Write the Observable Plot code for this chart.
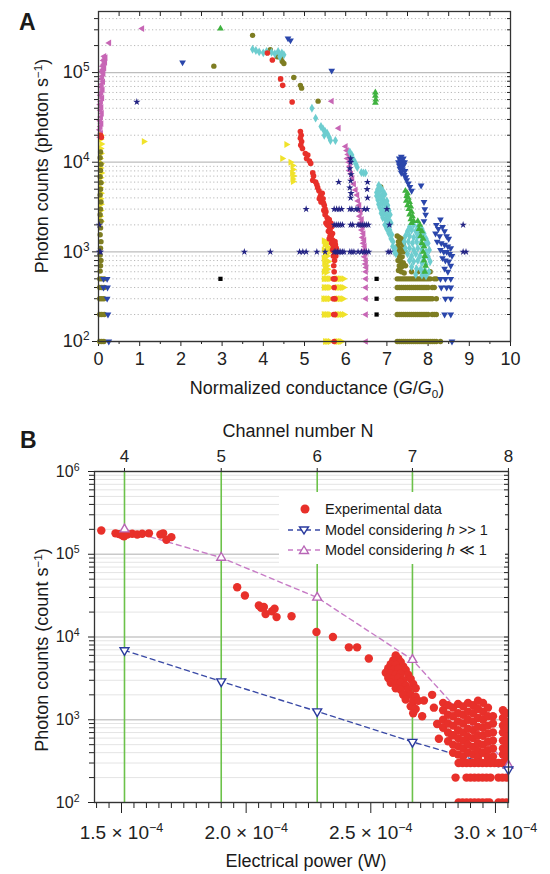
<!DOCTYPE html>
<html><head><meta charset="utf-8">
<script src="https://cdn.jsdelivr.net/npm/d3@7"></script>
<script src="https://cdn.jsdelivr.net/npm/@observablehq/plot@0.6"></script>
<style>
html,body{margin:0;padding:0;background:#fff;}
#root{position:relative;width:550px;height:874px;overflow:hidden;font-family:'Liberation Sans',Arial,Helvetica,sans-serif;color:#1a1a1a;}
.abs{position:absolute;white-space:nowrap;line-height:1;}
.c{transform:translate(-50%,-50%);}
.rot{transform:translate(-50%,-50%) rotate(-90deg);}
.panel{position:absolute;left:0;}
sup{font-size:0.65em;vertical-align:0.55em;line-height:0;}
sub{font-size:0.65em;vertical-align:-0.3em;line-height:0;}
.leg{position:absolute;font-size:14.5px;white-space:nowrap;line-height:1;transform:translateY(-50%);}
</style></head>
<body><div id="root"></div>
<script>
// ---------------- Panel A data: [G/G0, photon counts] ----------------
const magentaA = [
[0.04,19000],[0.06,21000],[0.03,23000],[0.05,25000],[0.07,27000],[0.04,29000],[0.06,32000],[0.08,35000],[0.05,38000],[0.07,41000],[0.04,44000],[0.06,48000],[0.09,52000],[0.05,56000],[0.07,60000],[0.1,64000],[0.06,69000],[0.08,74000],[0.11,79000],[0.07,85000],[0.09,91000],[0.12,97000],[0.08,103000],[0.11,108000],[0.14,112000],[0.1,118000],[0.13,124000],[0.16,130000],[0.12,136000],[0.15,141000],[0.17,147000],[0.14,152000],
[0.26,214000],[1.06,310000],[5.66,48000],[5.83,24000],
[6.0,15000],[6.03,13500],[6.06,12200],[6.04,11000],[6.08,10000],[6.1,9000],[6.09,8100],[6.13,7400],[6.16,6600],[6.2,5700],[6.24,4900],[6.28,4300],[6.3,3700],[6.33,3300],[6.31,3000],[6.36,2800],[6.34,2500],[6.39,2300],[6.37,2100],[6.41,1900],[6.39,1750],[6.43,1600],[6.41,1450],[6.45,1350],[6.43,1250],[6.46,1150],[6.45,1050],[6.48,960],[6.46,880],[6.49,800],[6.48,730],[6.5,670],[6.49,600],
[6.49,500],[6.49,400],[6.49,300],[6.49,200],[6.49,100]
];
const yellowA = [
[0.06,20000],[0.05,18000],[0.07,16000],[0.05,14200],[0.06,12500],[0.04,11000],[0.06,9700],[0.05,8600],[0.07,7600],[0.05,6700],[0.06,5900],[0.04,5200],[0.06,4500],[0.05,3900],[0.06,3400],[0.05,2900],[0.04,2500],[0.06,2200],
[1.1,17000],[4.56,15800],[4.46,11000],[4.66,10000],[4.71,9200],[4.72,8300],[4.7,7600],[4.73,7000],[4.71,6500],[4.72,6100],
[5.47,1330],[5.52,1300],[5.57,1250],[5.49,1200],[5.54,1150],[5.6,1100],[5.47,1050],[5.52,1000],[5.57,1000],[5.62,1000],[5.5,930],[5.55,900],[5.47,850],[5.52,800],[5.58,780],[5.48,740],[5.54,700],[5.5,660],[5.56,640],[5.47,600],[5.53,590]
];
const yellowRowsA = [
[500,[5.47,5.51,5.55,5.59,5.63,5.78,5.82,5.86,5.9,5.95]],
[400,[5.47,5.51,5.55,5.59,5.63,5.79,5.83,5.87,5.91,5.95]],
[300,[5.46,5.5,5.54,5.58,5.62,5.78,5.82,5.86,5.9,5.94]],
[200,[5.47,5.51,5.55,5.59,5.63,5.79,5.83,5.87,5.91,5.96]],
[100,[5.5,5.54,5.58,5.62,5.78,5.82,5.86,5.9]]
];
const redA = [
[0.05,20000],[0.07,19000],
[4.1,165000],[4.22,138000],[4.42,85000],[4.47,72000],[4.7,47000],
[4.9,22000],[4.92,20000],[4.9,18500],[4.93,17000],[4.91,15500],[4.95,14200],
[5.02,12500],[5.08,12000],[5.05,11000],[5.12,10300],[5.15,9700],
[5.2,7600],[5.22,7000],[5.2,6300],[5.27,6000],[5.3,5600],[5.32,5200],[5.35,4800],[5.4,4400],[5.38,4100],[5.43,4500],[5.36,3900],[5.4,3600],
[5.45,3900],[5.46,3500],[5.48,3300],[5.47,2900],[5.5,3000],[5.52,2800],[5.5,2600],[5.52,2100],[5.55,2400],[5.57,2200],[5.55,2000],[5.58,2000],[5.6,2300],[5.58,1700],[5.6,1900],[5.64,2100],[5.62,1800],[5.66,1900],[5.63,1650],[5.68,1600],[5.62,1500],[5.65,1500],[5.6,1400],[5.68,1350],[5.7,1300],[5.66,1250],[5.74,1300],[5.7,1150],[5.75,1200],[5.77,1100],[5.68,1050],[5.72,1000],[5.78,1000],[5.7,900],[5.76,900],[5.73,800],[5.71,700],[5.72,600],
[5.7,500],[5.74,500],[5.72,400],[5.7,300],[5.74,300],[5.71,200],[5.74,200],[5.72,100]
];
const oliveA = [
[0.05,13000],[0.04,11200],[0.06,9500],[0.05,8100],[0.04,6900],[0.06,5900],[0.05,5000],[0.04,4300],[0.06,3600],[0.05,3000],[0.04,2600],[0.06,2200],[0.05,1850],[0.04,1550],[0.06,1300],[0.05,1100],[0.04,920],[0.06,800],[0.05,700],[0.04,610],
[2.8,118000],[3.74,260000],[4.17,180000],[4.34,150000],[4.43,145000],[4.46,133000],[4.5,126000],[4.74,88000],[4.9,72000],[4.93,67000],[5.33,48000],[6.85,5300],
[7.25,1500],[7.3,1450],[7.35,1400],[7.28,1300],[7.33,1250],[7.4,1200],[7.26,1150],[7.31,1100],[7.38,1050],[7.28,1000],[7.35,1000],[7.42,1000],[7.3,900],[7.37,880],[7.27,800],[7.34,780],[7.4,750],[7.3,700],[7.36,680],[7.45,700],[7.28,620],[7.35,600],[7.42,580],[7.6,600],[7.75,600],[7.9,600],[8.05,600]
];
const oliveRowsA = [
[500,[0.03,0.08,0.14,7.25,7.3,7.35,7.4,7.45,7.5,7.55,7.6,7.65,7.7,7.75,7.8,7.85,7.9,7.95,8.0,8.05,8.15,8.2]],
[400,[0.03,0.08,0.14,7.25,7.3,7.35,7.4,7.45,7.5,7.55,7.6,7.65,7.7,7.75,7.8,7.85,7.9,7.95,8.0,8.1,8.15]],
[300,[0.03,0.08,0.13,7.25,7.3,7.35,7.4,7.45,7.5,7.55,7.6,7.65,7.7,7.75,7.8,7.85,7.9,7.95,8.0,8.05,8.1,8.2]],
[200,[0.03,0.08,0.14,7.25,7.3,7.35,7.4,7.45,7.5,7.55,7.6,7.65,7.7,7.75,7.8,7.85,7.9,7.95,8.0,8.1,8.15,8.2]],
[100,[0.03,0.08,0.13,7.25,7.3,7.35,7.4,7.45,7.5,7.55,7.6,7.65,7.7,7.75,7.8,7.85,7.9,7.95,8.0,8.05,8.1,8.15,8.2,8.3]]
];
const cyanA = [
[3.74,182000],[3.82,176000],[3.9,170000],[4.0,166000],[4.08,172000],[4.2,168000],[4.28,162000],[4.36,172000],[4.45,165000],[4.5,158000],[4.4,150000],
[5.18,40000],[5.27,31000],[5.4,25000],[5.45,23500],[5.5,22000],[5.48,20000],[5.55,21000],[5.6,19000],[5.63,17500],[5.75,17500],
[6.1,13000],[6.15,12000],[6.2,10500],[6.25,9500],[6.28,8800],[6.38,7700],[6.43,7600],[6.48,7600],
[6.8,5500],[6.78,5000],[6.85,5200],[6.75,4600],[6.82,4700],[6.9,4800],[6.75,4200],[6.8,4300],[6.88,4200],[6.95,4400],[6.78,3800],[6.85,3900],[6.92,3800],[7.0,3700],[6.8,3400],[6.88,3500],[6.95,3400],[7.02,3300],[6.83,3100],[6.9,3000],[6.98,3100],[7.05,2900],[6.86,2700],[6.93,2700],[7.0,2600],[7.08,2600],[6.9,2400],[6.97,2300],[7.04,2300],[6.95,2000],[7.02,2000],[7.1,2100],[7.0,1800],[7.07,1750],[7.05,1600],[7.12,1550],[7.1,1400],[7.15,1300],[7.14,1150],[7.2,1100],[7.18,1000],[7.22,950],
[7.55,1900],[7.65,2000],[7.75,1900],[7.85,1800],[7.5,1700],[7.6,1750],[7.7,1700],[7.8,1650],[7.9,1600],[7.45,1500],[7.55,1500],[7.65,1450],[7.75,1500],[7.85,1400],[7.95,1400],[7.42,1300],[7.52,1300],[7.62,1250],[7.72,1300],[7.82,1250],[7.92,1200],[8.0,1250],[7.45,1100],[7.55,1100],[7.65,1050],[7.75,1100],[7.85,1050],[7.95,1000],[8.03,1050],[7.5,950],[7.6,900],[7.7,950],[7.8,900],[7.9,850],[8.0,880],[7.55,800],[7.65,780],[7.75,800],[7.85,750],[7.95,720],[8.05,780],[7.6,680],[7.72,650],[7.82,640],[7.92,620],[8.02,600],[7.7,560],[7.85,550],[7.95,540]
];
const greenA = [
[2.96,310000],[6.72,60000],[6.72,55000],[6.73,50000],[6.72,46000],
[7.45,4800],[7.5,4500],[7.48,4200],[7.52,4000],[7.47,3700],[7.55,3600],[7.5,3300],[7.58,3200],[7.53,3000],[7.6,2800],[7.55,2600],[7.62,2500],[7.58,2300],[7.65,2200],[7.6,2100],[7.75,2200],[7.8,2000],[7.78,1800],[7.85,1700],[7.82,1500],[7.88,1400],[7.85,1250],[7.9,1150],[7.88,1000],[7.92,900],[7.9,800],[7.94,700],[7.92,600]
];
const blueA = [
[0.12,500],[0.21,500],[0.12,400],[0.22,400],[0.21,300],[0.23,200],[0.25,100],
[2.04,130000],[4.6,240000],[4.66,228000],[5.66,105000],
[7.3,11000],[7.35,11500],[7.4,11000],[7.28,10000],[7.33,10200],[7.38,10000],[7.43,10000],[7.3,9200],[7.36,9000],[7.41,9300],[7.32,8400],[7.38,8300],[7.44,8000],[7.35,7600],[7.42,7200],[7.46,6800],[7.48,6300],[7.52,5800],[7.56,5300],[7.6,4800],
[7.83,5500],[7.9,3600],[7.92,3000],[7.94,2600],[7.9,2200],
[8.3,2300],[8.2,2000],[8.25,1800],[8.35,1900],[8.4,1700],[8.18,1600],[8.28,1500],[8.45,1500],[8.5,1400],[8.22,1300],[8.32,1250],[8.4,1200],[8.48,1150],[8.55,1100],[8.3,1050],[8.38,1000],[8.45,1000],[8.52,950],[8.58,900],[8.35,850],[8.42,800],[8.5,780],[8.55,700],[8.4,650],[8.48,600],
[8.3,500],[8.42,500],[8.55,500],[8.32,400],[8.45,400],[8.55,400],[8.42,300],[8.55,300],[8.4,200],[8.55,200],[8.58,100]
];
const navyA = [
[0.02,2000],[0.02,1000],[0.05,1000],[0.93,47000],[3.54,1000],[4.17,1000],[4.88,1000],[4.96,1000],[5.04,1000],[5.3,1000],[5.5,1000],[5.04,3000],[5.83,6000],
[5.72,3000],[5.78,3000],[5.84,3000],[5.9,3000],
[5.72,2000],[5.77,2000],[5.82,2000],[5.87,2000],[5.92,2000],
[5.72,1000],[5.76,1000],[5.8,1000],[5.84,1000],[5.88,1000],[5.92,1000],[5.96,1000],
[6.12,11000],[6.12,10000],[6.1,8500],[6.13,7300],[6.12,6200],[6.1,5200],[6.13,4500],[6.12,4000],
[6.1,3000],[6.15,3000],[6.25,3000],[6.3,3000],
[6.12,2000],[6.17,2000],[6.3,2000],[6.35,2000],[6.4,2000],[6.45,2000],[6.5,2000],[6.55,2000],
[6.1,1000],[6.15,1000],[6.2,1000],[6.3,1000],[6.38,1000],[6.45,1000],[6.5,1000],[6.56,1000],
[6.53,6000],[6.52,5000],[6.53,4000],[6.45,3000],[6.52,3000],
[7.0,3000],[7.06,2000],[7.03,1000],[7.08,1000],[8.85,2000],[8.85,1000],[8.92,1000]
];
const blackA = [[2.96,500],[6.75,500],[6.75,300],[6.75,200]];
const xTicksA = [0,1,2,3,4,5,6,7,8,9,10];
const yTicksA = [100,1000,10000,100000];

// ---------------- Panel B data: [electrical power (×10^-4 W), counts] ----------------
const expB = [
[1.419,194000],[1.476,179000],[1.49,175000],[1.503,169000],[1.51,165000],[1.523,173000],[1.543,177000],[1.563,173000],[1.583,177000],[1.61,179000],[1.656,173000],[1.667,179000],[1.68,150000],[1.70,161000],
[1.964,40000],[1.995,31700],[2.051,24000],[2.06,22500],[2.071,23000],[2.078,19000],[2.104,20500],[2.114,22000],[2.122,17400],[2.182,17800],[2.282,11500],[2.348,10000],[2.412,7500],[2.445,7500],[2.492,5500],
[2.60,6000],[2.61,5500],[2.59,5200],[2.62,5000],[2.58,4700],[2.60,4600],[2.63,4400],[2.57,4200],[2.59,4000],[2.61,4100],[2.64,4000],[2.56,3700],[2.58,3600],[2.60,3500],[2.62,3600],[2.65,3500],[2.57,3200],[2.59,3100],[2.61,3200],[2.63,3000],[2.66,3100],[2.58,2800],[2.60,2700],[2.62,2800],[2.64,2600],[2.67,2700],[2.60,2400],[2.62,2300],[2.65,2300],[2.68,2400],[2.63,2000],[2.66,2000],[2.68,1900],[2.64,1750],[2.67,1650],[2.69,1700],[2.66,1450],[2.68,1350],[2.67,1200],
[2.706,1100],[2.713,1710],[2.746,2000],[2.753,1400],[2.766,890],[2.773,590],[2.826,650],
[2.79,1600],[2.79,1300],[2.79,1000],[2.79,800],
[2.81,1500],[2.81,1150],[2.81,900],[2.81,700],[2.81,550],
[2.83,1400],[2.83,1100],[2.83,850],[2.83,650],[2.83,500],[2.83,400],
[2.85,1550],[2.85,1200],[2.85,950],[2.85,750],[2.85,600],[2.85,480],[2.85,380],
[2.87,1450],[2.87,1150],[2.87,900],[2.87,700],[2.87,560],[2.87,450],[2.87,360],
[2.89,1600],[2.89,1250],[2.89,1000],[2.89,780],[2.89,620],[2.89,500],[2.89,400],
[2.91,1500],[2.91,1200],[2.91,950],[2.91,750],[2.91,600],[2.91,470],[2.91,380],
[2.93,1700],[2.93,1350],[2.93,1050],[2.93,820],[2.93,650],[2.93,520],[2.93,420],[2.93,350],
[2.95,1600],[2.95,1250],[2.95,1000],[2.95,800],[2.95,640],[2.95,500],[2.95,400],
[2.97,1400],[2.97,1100],[2.97,850],[2.97,680],[2.97,540],[2.97,430],[2.97,350],
[2.99,1100],[2.99,900],[2.99,700],[2.99,560],[2.99,450],[2.99,360],
[3.03,1300],[3.03,1050],[3.03,850],[3.03,700],[3.03,560],[3.03,450],[3.03,380],
[3.045,1200],[3.045,950],[3.045,780],[3.045,620],[3.045,500],[3.045,420],[3.045,350]
];
const expRowsB = [
[300,[2.852,2.868,2.884,2.9,2.916,2.932,2.948,2.964,2.98,2.996,3.012,3.028,3.044]],
[200,[2.84,2.884,2.9,2.916,2.932,2.948,2.964,2.98,3.012,3.028,3.044]],
[100,[2.852,2.868,2.884,2.9,2.916,2.932,2.948,2.964,2.976,3.012,3.028,3.044]]
];
const channelN = [4,5,6,7,8];
const channelPower = [1.512,1.900,2.285,2.667,3.052];
const modelHigh = [6900,2900,1260,540,250];   // h >> 1
const modelLow = [200000,91000,30000,5300,280]; // h << 1
const powerTicks = [1.5,2.0,2.5,3.0];
const yTicksB = [100,1000,10000,100000,1000000];

// ---------------- helpers ----------------
const FONT = "'Liberation Sans', Arial, Helvetica, sans-serif";
const pts = a => a.map(([x,y]) => ({x,y}));
const rowPts = rs => rs.flatMap(([y,xs]) => xs.map(x => ({x,y})));
const minorOf = (decs, max) => decs.flatMap(d => [2,3,4,5,6,7,8,9].map(k => k*d)).filter(v => v <= max);
const blank = () => "";
function supify(svg){
  const ns = "http://www.w3.org/2000/svg";
  svg.querySelectorAll("text").forEach(t => {
    const s = t.textContent; const i = s.indexOf("^");
    if (i < 0) return;
    while (t.firstChild) t.removeChild(t.firstChild);
    const a = document.createElementNS(ns,"tspan"); a.textContent = s.slice(0,i); t.appendChild(a);
    const b = document.createElementNS(ns,"tspan"); b.textContent = s.slice(i+1);
    b.setAttribute("baseline-shift","super"); b.setAttribute("font-size","0.66em"); t.appendChild(b);
  });
}
const root = document.getElementById("root");
function html(cls, css, inner){ const d = document.createElement("div"); d.className = cls; d.style.cssText = css; d.innerHTML = inner; root.appendChild(d); return d; }

// ---------------- Panel A ----------------
const minorA = minorOf([100,1000,10000,100000], 4.8e5);
const svgA = Plot.plot({
  width: 550, height: 400,
  marginLeft: 98, marginRight: 40, marginTop: 11, marginBottom: 59,
  style: {fontFamily: FONT, fontSize: "18px", color: "#222", background: "white"},
  x: {domain: [0,10]},
  y: {type: "log", domain: [100, 4.8e5]},
  marks: [
    Plot.ruleY(minorA, {stroke: "#b8b8b8", strokeDasharray: "1.2,2.4", strokeWidth: 1}),
    Plot.ruleY(yTicksA, {stroke: "#bdbdbd", strokeWidth: 1.3}),
    Plot.axisX({ticks: xTicksA, tickFormat: d => String(d), tickSize: 5, tickPadding: 6, fontSize: 18, label: null}),
    Plot.axisX({ticks: d3.range(0.5, 10, 1), tickFormat: blank, tickSize: 3, label: null}),
    Plot.axisX({anchor: "top", ticks: d3.range(0, 10.01, 0.5), tickFormat: blank, tickSize: -4, label: null}),
    Plot.axisY({ticks: yTicksA, tickFormat: d => "10^" + Math.round(Math.log10(d)), tickSize: 6, tickPadding: 3, fontSize: 18, label: null}),
    Plot.axisY({ticks: minorA, tickFormat: blank, tickSize: 4, label: null}),
    Plot.axisY({anchor: "right", ticks: yTicksA.concat(minorA), tickFormat: blank, tickSize: -4, label: null}),
    Plot.dot(pts(magentaA), {x: "x", y: "y", symbol: "triangle", rotate: -90, r: 2.5, fill: "#c766b5"}),
    Plot.dot(pts(yellowA).concat(rowPts(yellowRowsA)), {x: "x", y: "y", symbol: "triangle", rotate: 90, r: 2.6, fill: "#f0e22a"}),
    Plot.dot(pts(oliveA).concat(rowPts(oliveRowsA)), {x: "x", y: "y", r: 2.7, fill: "#7e7d22"}),
    Plot.dot(pts(cyanA), {x: "x", y: "y", symbol: "diamond", r: 2.7, fill: "#6dcdcf"}),
    Plot.dot(pts(greenA), {x: "x", y: "y", symbol: "triangle", r: 2.5, fill: "#3fb23f"}),
    Plot.dot(pts(blueA), {x: "x", y: "y", symbol: "triangle", rotate: 180, r: 2.5, fill: "#2a46ab"}),
    Plot.dot(pts(redA), {x: "x", y: "y", r: 2.8, fill: "#e8302a"}),
    Plot.dot(pts(navyA), {x: "x", y: "y", symbol: "star", r: 2.3, fill: "#232383"}),
    Plot.dot(pts(blackA), {x: "x", y: "y", symbol: "square", r: 2.4, fill: "#000"}),
    Plot.frame({stroke: "#333", strokeWidth: 1.3})
  ]
});
supify(svgA);
svgA.classList.add("panel"); svgA.style.top = "0px";
root.appendChild(svgA);

// ---------------- Panel B ----------------
const minorB = minorOf([100,1000,10000,100000], 1e6);
const toP = (vals) => vals.map((v,i) => ({x: channelPower[i], y: v}));
const svgB = Plot.plot({
  width: 550, height: 474,
  marginLeft: 94, marginRight: 42, marginTop: 71, marginBottom: 72,
  style: {fontFamily: FONT, fontSize: "16px", color: "#222", background: "white", overflow: "visible"},
  x: {domain: [1.3917, 3.0523]},
  y: {type: "log", domain: [100, 1e6]},
  marks: [
    Plot.ruleY(minorB, {stroke: "#e4e4e4", strokeWidth: 1}),
    Plot.ruleY(yTicksB, {stroke: "#c9c9c9", strokeWidth: 1.3}),
    Plot.ruleX(channelPower.slice(0,4), {stroke: "#6cc24a", strokeWidth: 1.6}),
    Plot.axisX({ticks: powerTicks, tickFormat: d => d.toFixed(1) + " × 10^−4", tickSize: 11, tickPadding: 12, fontSize: 19, label: null}),
    Plot.axisX({ticks: d3.range(1.40, 3.06, 0.05).filter(v => Math.abs(v*2 - Math.round(v*2)) > 0.01), tickFormat: blank, tickSize: 6, label: null}),
    Plot.axisX({anchor: "top", ticks: channelPower, tickFormat: d => String(channelN[channelPower.indexOf(d)]), tickSize: 4, tickPadding: 6, fontSize: 17, label: null}),
    Plot.axisY({ticks: yTicksB, tickFormat: d => "10^" + Math.round(Math.log10(d)), tickSize: 6, tickPadding: 9, fontSize: 16, label: null}),
    Plot.axisY({ticks: minorB, tickFormat: blank, tickSize: 5, label: null}),
    Plot.axisY({anchor: "right", ticks: yTicksB.concat(minorB), tickFormat: blank, tickSize: -5, label: null}),
    Plot.line(toP(modelLow), {x: "x", y: "y", stroke: "#c77cc6", strokeWidth: 1.4, strokeDasharray: "5,4"}),
    Plot.line(toP(modelHigh), {x: "x", y: "y", stroke: "#3a4aa6", strokeWidth: 1.4, strokeDasharray: "5,4"}),
    Plot.dot(pts(expB).concat(rowPts(expRowsB)), {x: "x", y: "y", r: 4.2, fill: "#e8302a", clip: true}),
    Plot.dot(toP(modelLow), {x: "x", y: "y", symbol: "triangle", r: 3.3, stroke: "#b866b6", fill: "white", strokeWidth: 1.4}),
    Plot.dot(toP(modelHigh), {x: "x", y: "y", symbol: "triangle", rotate: 180, r: 3.3, stroke: "#2a3a9e", fill: "white", strokeWidth: 1.4}),
    Plot.frame({stroke: "#333", strokeWidth: 1.3})
  ]
});
supify(svgB);
svgB.classList.add("panel"); svgB.style.top = "400px";
root.appendChild(svgB);

// ---------------- Titles (HTML text) ----------------
html("abs", "left:19px;top:11px;font-size:23px;font-weight:bold;", "A");
html("abs rot", "left:42px;top:166px;font-size:18px;", "Photon counts (photon s<sup>−1</sup>)");
html("abs c", "left:317px;top:388px;font-size:18px;", "Normalized conductance (<i>G</i>/<i>G</i><sub>0</sub>)");
html("abs", "left:20px;top:429px;font-size:23px;font-weight:bold;", "B");
html("abs c", "left:298px;top:431px;font-size:18px;", "Channel number N");
html("abs rot", "left:42px;top:650px;font-size:18px;", "Photon counts (count s<sup>−1</sup>)");
html("abs c", "left:306px;top:861px;font-size:18px;", "Electrical power (W)");

// ---------------- Legend for panel B ----------------
html("abs", "left:279px;top:492px;width:226px;height:72px;background:#fff;", "");
html("abs", "left:296px;top:500px;", '<svg width="18" height="18"><circle cx="9" cy="9" r="4.5" fill="#e8302a"/></svg>');
html("abs", "left:287px;top:521px;", '<svg width="34" height="18"><line x1="1" y1="9" x2="33" y2="9" stroke="#3a4aa6" stroke-width="1.4" stroke-dasharray="5,4"/><path d="M12.5,6 L21.5,6 L17,13 Z" fill="white" stroke="#2a3a9e" stroke-width="1.4"/></svg>');
html("abs", "left:287px;top:541px;", '<svg width="34" height="18"><line x1="1" y1="9" x2="33" y2="9" stroke="#c77cc6" stroke-width="1.4" stroke-dasharray="5,4"/><path d="M12.5,12.5 L21.5,12.5 L17,5 Z" fill="white" stroke="#b866b6" stroke-width="1.4"/></svg>');
html("leg", "left:325px;top:509px;", "Experimental data");
html("leg", "left:325px;top:530px;", "Model considering <i>h</i> &gt;&gt; 1");
html("leg", "left:325px;top:550px;", "Model considering <i>h</i> ≪ 1");
</script>
</body></html>
